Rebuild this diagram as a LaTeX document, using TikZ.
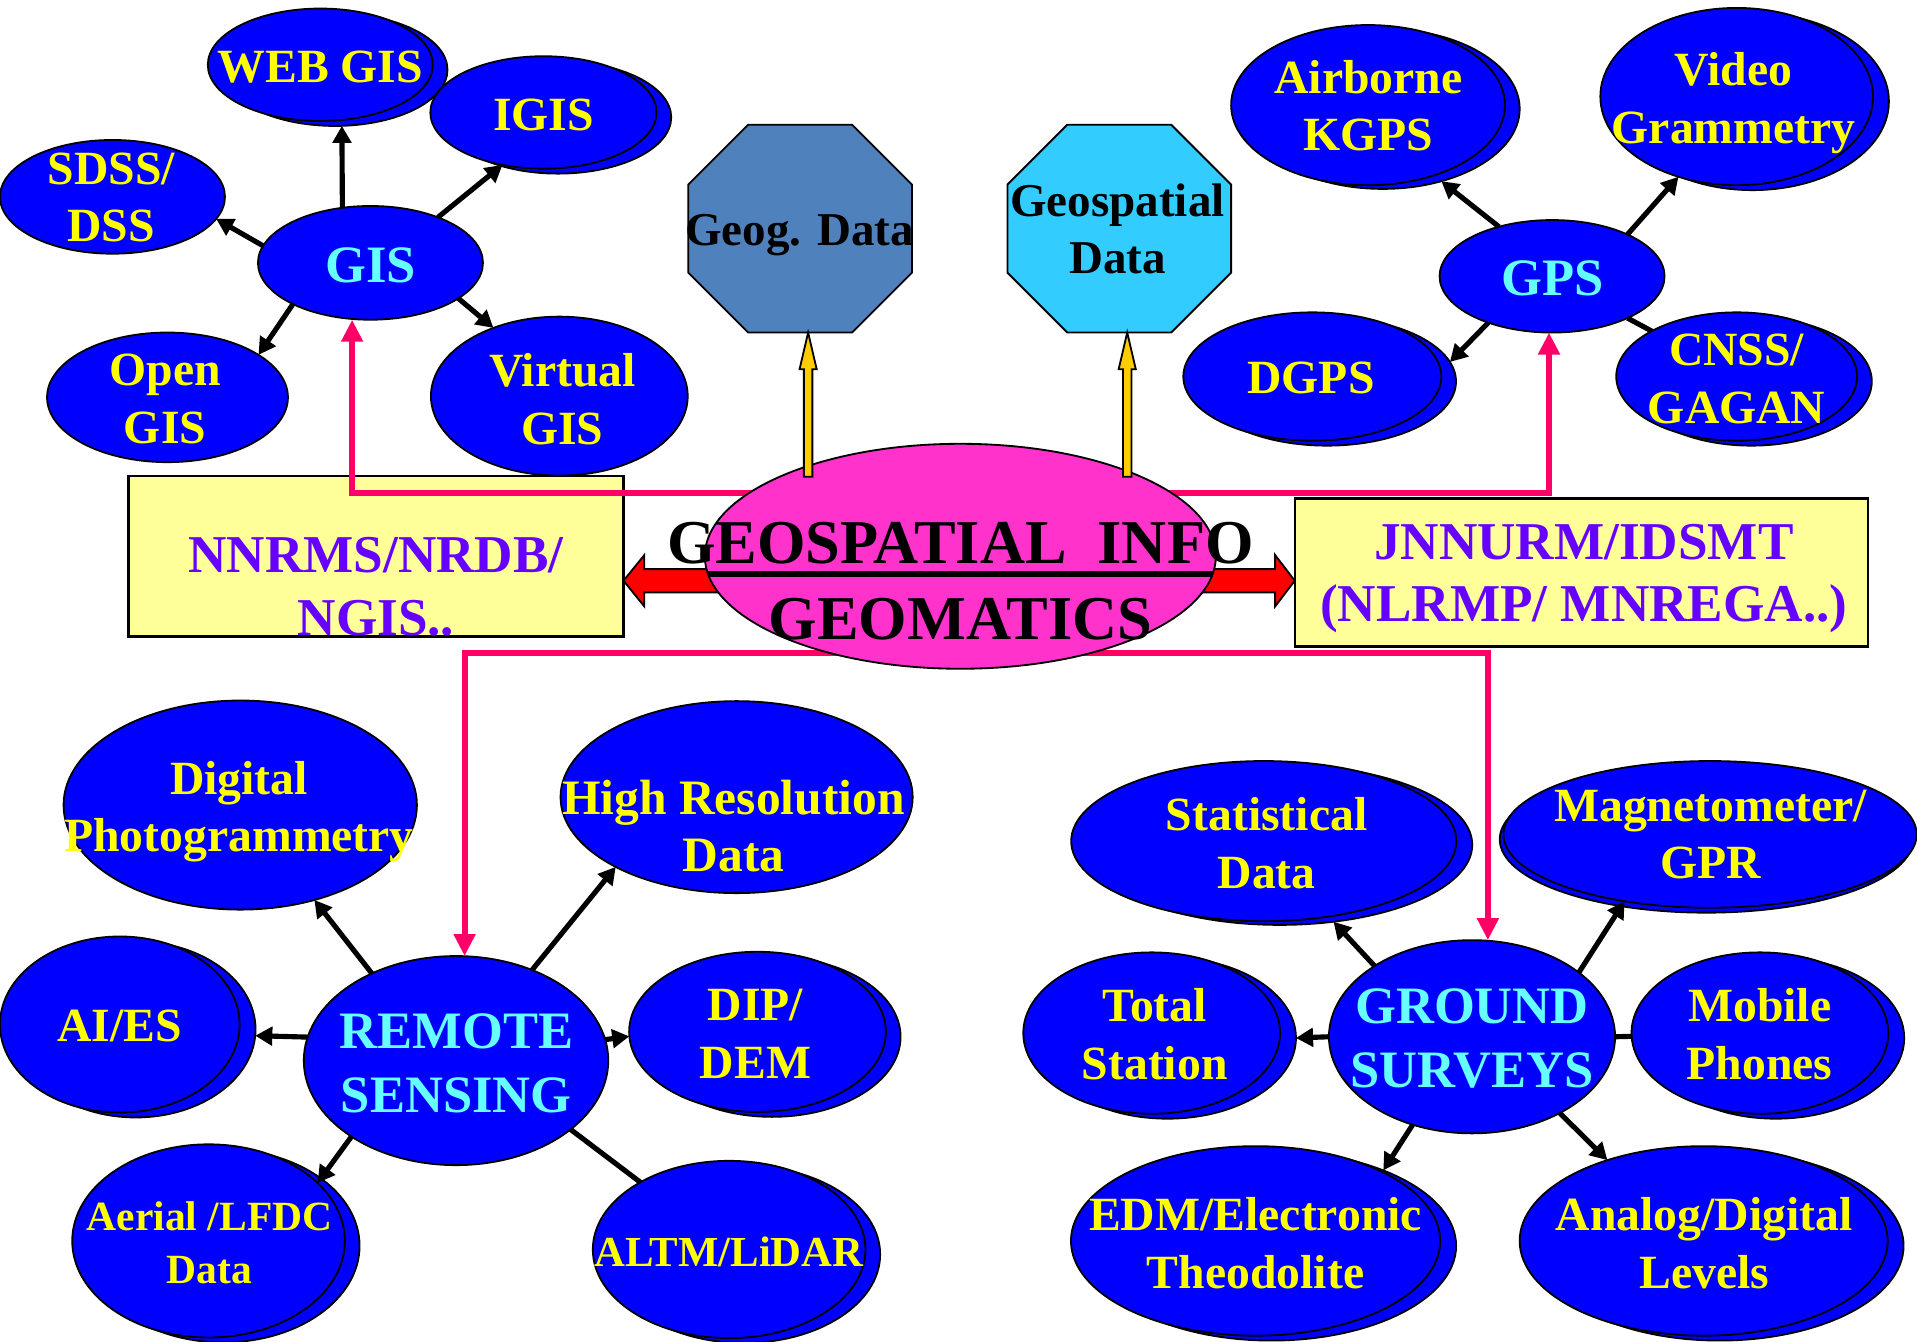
\documentclass[tikz,border=0pt]{standalone}
\usepackage{fontspec}
\setmainfont{Liberation Serif}
\usetikzlibrary{shapes.geometric,arrows.meta,calc}

\definecolor{bubfill}{RGB}{0,0,255}
\definecolor{bubtext}{RGB}{255,255,0}
\definecolor{hubtext}{RGB}{102,255,255}
\definecolor{boxtext}{RGB}{102,0,255}
\definecolor{boxfill}{RGB}{255,255,153}
\definecolor{corefill}{RGB}{255,51,204}
\definecolor{feedpink}{RGB}{255,0,102}
\definecolor{steelfill}{RGB}{79,129,189}
\definecolor{skyfill}{RGB}{51,204,255}
\definecolor{goldfill}{RGB}{255,204,0}
\definecolor{redfill}{RGB}{255,0,0}

\pgfdeclarelayer{back}
\pgfsetlayers{back,main}

\tikzset{
  bub/.style={ellipse, draw=black, line width=1.5pt, fill=bubfill, inner sep=0pt, outer sep=0pt},
  infobox/.style={rectangle, draw=black, line width=2pt, fill=boxfill, inner sep=0pt, outer sep=0pt},
  ylab/.style={text=bubtext, font=\bfseries\fontsize{39}{47}\selectfont, align=center, inner sep=0pt},
  clab/.style={text=hubtext, font=\bfseries\fontsize{43}{52.5}\selectfont, align=center, inner sep=0pt},
  plab/.style={text=boxtext, font=\bfseries\fontsize{43.5}{51}\selectfont, align=center, inner sep=0pt},
  klab/.style={text=black, font=\bfseries\fontsize{38.5}{46}\selectfont, align=center, inner sep=0pt},
  corelab/.style={text=black, font=\bfseries\fontsize{51}{62}\selectfont, align=center, inner sep=0pt},
  arr/.style={line width=4.2pt, -{Triangle[length=14pt,width=15pt]}},
  link/.style={line width=4.2pt},
  feed/.style={draw=feedpink, line width=4.8pt, -{Triangle[length=18pt,width=17pt]}},
  blockarrow/.style={draw=black, line width=1.5pt, line join=miter},
}

% a bubble with a second copy peeking out behind it
\newcommand\twinbub[6]{%
  \node[bub, minimum width=#4pt, minimum height=#5pt] (#1-b) at ($(#2,#3)+(#6)$) {};
  \node[bub, minimum width=#4pt, minimum height=#5pt] (#1) at (#2,#3) {};}
\newcommand\onebub[5]{%
  \node[bub, minimum width=#4pt, minimum height=#5pt] (#1) at (#2,#3) {};}

\begin{document}
\begin{tikzpicture}[x=1pt,y=-1pt]
\useasboundingbox (0,0) rectangle (1568,1097);

\begin{pgfonlayer}{back}
  \fill[white] (0,0) rectangle (1568,1097);
  \node[infobox, minimum width=405pt, minimum height=131pt] (nn) at (307.5,455) {};
  \node[infobox, minimum width=469pt, minimum height=121pt] (jn) at (1293.5,468.3) {};
\end{pgfonlayer}

% GIS cluster
\twinbub{webgis}{262}{53}{184}{92}{12,4}
\twinbub{igis}{444.5}{92}{185}{92}{12,4}
\onebub{sdss}{92}{161}{184}{93}
\onebub{gis}{303}{215}{184}{93}
\onebub{open}{137}{325}{197}{106}
\onebub{virt}{457.5}{324}{210}{130}

% GPS cluster
\twinbub{air}{1119}{86}{224}{131}{12,3}
\twinbub{video}{1420.5}{79}{223}{145}{13,4}
\onebub{gps}{1269.5}{226}{184}{92}
\twinbub{dgps}{1073.4}{308}{211}{105}{12,4}
\twinbub{cnss}{1420.5}{308}{197}{105}{12,4}

% remote sensing cluster
\onebub{dphoto}{196.5}{658.5}{289}{171}
\onebub{hires}{602.5}{652}{288}{157}
\twinbub{aies}{98}{838}{196}{144}{13,4}
\onebub{rs}{373}{867.5}{249}{171}
\twinbub{dip}{619.6}{844}{210}{131}{12,4}
\twinbub{aerial}{170.6}{1015}{223}{158}{12,4}
\twinbub{altm}{596.4}{1022}{223}{145}{12,4}

% ground survey cluster
\twinbub{stat}{1033.7}{688}{315}{131}{13,3}
\twinbub{mag}{1398.7}{682.5}{338}{120}{-3,4}
\twinbub{total}{942}{845}{210}{132}{13,4}
\onebub{gs}{1204}{848}{234}{158}
\twinbub{mobile}{1439.5}{845}{210}{132}{13,4}
\twinbub{edm}{1027}{1015}{302}{155}{13,4}
\twinbub{analog}{1393.5}{1015}{301}{155}{13,4}

% central ellipse
\node[ellipse, draw=black, line width=1.5pt, fill=corefill, inner sep=0pt, outer sep=0pt,
      minimum width=418pt, minimum height=184pt] (geo) at (785.5,455) {};
\draw[line width=4.7pt] (geo.184.2) -- (geo.-4.2);

% data octagons
\coordinate (geog) at (654.5,187);
\coordinate (geosp) at (915.5,187);
\filldraw[blockarrow, fill=steelfill] ($(geog)+(-42.5,-85)$) -- ++(85,0) -- ++(49,49) -- ++(0,72)
  -- ++(-49,49) -- ++(-85,0) -- ++(-49,-49) -- ++(0,-72) -- cycle;
\filldraw[blockarrow, fill=skyfill] ($(geosp)+(-42.5,-85)$) -- ++(85,0) -- ++(49,49) -- ++(0,72)
  -- ++(-49,49) -- ++(-85,0) -- ++(-49,-49) -- ++(0,-72) -- cycle;

% yellow block arrows up to the octagons
\filldraw[blockarrow, fill=goldfill] ($(geog)+(6.5,85)$) -- ++(7,30) -- ++(-3.5,0) -- ++(0,88)
  -- ++(-7,0) -- ++(0,-88) -- ++(-3.5,0) -- cycle;
\filldraw[blockarrow, fill=goldfill] ($(geosp)+(6.5,85)$) -- ++(7,30) -- ++(-3.5,0) -- ++(0,88)
  -- ++(-7,0) -- ++(0,-88) -- ++(-3.5,0) -- cycle;

% black connectors
\draw[arr] (gis.117.2) -- (webgis-b.-83.5);
\draw[arr] (gis.34.4) -- (igis.-128.1);
\draw[arr] (gis.171.6) -- (sdss.-12.9);
\draw[arr] (gis.-152) -- (open.25.5);
\draw[arr] (gis.-22.5) -- (virt.134.9);
\draw[arr] (gps.137.4) -- (air-b.-51.8);
\draw[arr] (gps.29.4) -- (video.-126.5);
\draw[arr] (gps.-144.4) -- (dgps-b.9.5);
\draw[arr] (rs.134.3) -- (dphoto.-52.2);
\draw[arr] (rs.50.3) -- (hires.-150.4);
\draw[arr] (rs.171.4) -- (aies-b.-3.6);
\draw[arr] (rs.8.5) -- (dip.182.3);
\draw[arr] (rs.-144.8) -- (aerial.28.4);
\draw[arr] (gs.144.3) -- (stat-b.-55.4);
\draw[arr] (gs.31.6) -- (mag.-142.4);
\draw[arr] (gs.180) -- (total-b.0);
\draw[arr] (gs.-124.7) -- (edm-b.34.5);
\draw[arr] (gs.-41) -- (analog.140.8);

% labels
\node[ylab] (webgis-t) at (262,54.5) {WEB GIS};
\node[ylab] (igis-t) at (444.6,93.7) {IGIS};
\node[ylab] (sdss-t) at (91,161.6) {SDSS/\\DSS};
\node[clab] (gis-t) at (303,216.8) {GIS};
\node[ylab] (open-t) at (135,326.3) {Open\\GIS};
\node[ylab] (virt-t) at (460,326.6) {Virtual\\GIS};
\node[ylab] (air-t) at (1119.3,86.6) {Airborne\\KGPS};
\node[ylab] (video-t) at (1418,84.3) {Video\\Grammetry};
\node[clab] (gps-t) at (1269.8,227.7) {GPS};
\node[ylab] (dgps-t) at (1072.3,309.5) {DGPS};
\node[ylab] (cnss-t) at (1420.5,309.8) {CNSS/\\GAGAN};
\node[klab] (geog-t) at (654,192) {Geog. Data};
\node[klab] (geosp-t) at (914,187.3) {Geospatial\\Data};
\node[corelab] (geo-t) at (785.5,475.4) {GEOSPATIAL\ \ INFO\\GEOMATICS};
\node[plab] (nn-t) at (307.5,479.9) {NNRMS/NRDB/\\NGIS..};
\node[plab] (jn-t) at (1295.5,473) {JNNURM/IDSMT\\(NLRMP/ MNREGA..)};
\node[ylab] (dphoto-t) at (195.5,664) {Digital\\Photogrammetry};
\node[ylab, font=\bfseries\fontsize{40.5}{46.5}\selectfont] (hires-t) at (600,676) {High Resolution\\Data};
\node[ylab] (aies-t) at (98,839.3) {AI/ES};
\node[clab] (rs-t) at (373.3,869.8) {REMOTE\\SENSING};
\node[ylab] (dip-t) at (618,845.6) {DIP/\\DEM};
\node[ylab, font=\bfseries\fontsize{34}{43}\selectfont] (aerial-t) at (171.4,1016.7) {Aerial /LFDC\\Data};
\node[ylab, font=\bfseries\fontsize{35}{42}\selectfont] (altm-t) at (596.2,1024) {ALTM/LiDAR};
\node[ylab] (stat-t) at (1036,689.5) {Statistical\\Data};
\node[ylab] (mag-t) at (1399,682.6) {Magnetometer/\\GPR};
\node[ylab] (total-t) at (944.5,846) {Total\\Station};
\node[clab] (gs-t) at (1204,849.4) {GROUND\\SURVEYS};
\node[ylab] (mobile-t) at (1439.3,846) {Mobile\\Phones};
\node[ylab] (edm-t) at (1027,1016.7) {EDM/Electronic\\Theodolite};
\node[ylab] (analog-t) at (1394,1016.7) {Analog/Digital\\Levels};

\begin{pgfonlayer}{back}
  % links whose ends disappear under the bubbles
  \draw[link] (gps.-29.8) -- (cnss.center);
  \draw[link] (rs.-31.3) -- (altm.center);
  \draw[link] (gs.0) -- (mobile.center);
  % feeds from the central ellipse to the four hubs
  \draw[feed] ($(geo.center)+(-150,-52)$) -| ($(gis.south)+(-15,0)$);
  \draw[feed] ($(geo.center)+(150,-52)$) -| ($(gps.south)+(-2.5,0)$);
  \draw[feed] ($(geo.center)+(-100,79)$) -| ($(rs.north)+(7,0)$);
  \draw[feed] ($(geo.center)+(100,79)$) -| ($(gs.north)+(13,0)$);
  % red block arrows to the two programme boxes
  \filldraw[blockarrow, fill=redfill] ($(nn.east)+(0,20)$) -- ++(17,-21) -- ++(0,11.5) -- ++(70,0)
    -- ++(0,19) -- ++(-70,0) -- ++(0,11.5) -- cycle;
  \filldraw[blockarrow, fill=redfill] ($(jn.west)+(0,6.7)$) -- ++(-16,-21) -- ++(0,11.5) -- ++(-70,0)
    -- ++(0,19) -- ++(70,0) -- ++(0,11.5) -- cycle;
\end{pgfonlayer}
\end{tikzpicture}
\end{document}
